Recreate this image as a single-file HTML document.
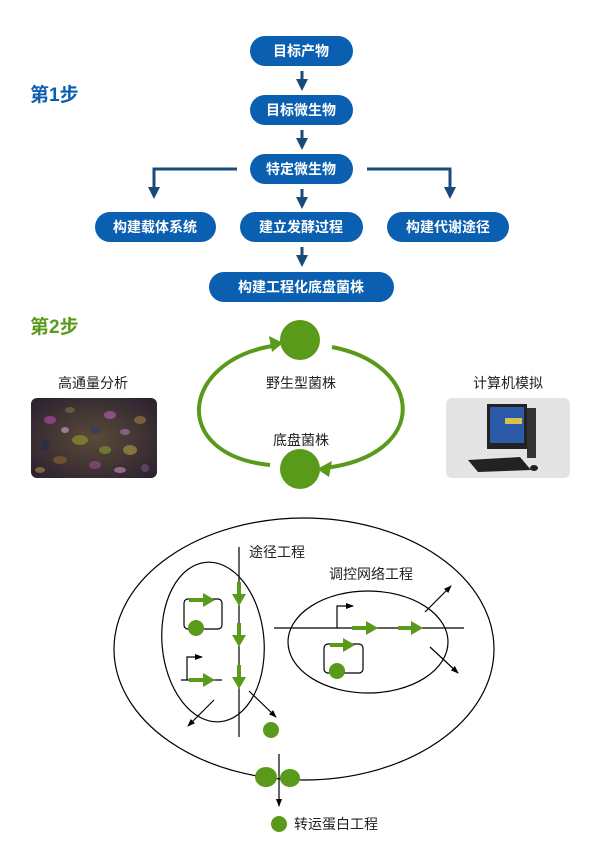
<!DOCTYPE html>
<html><head><meta charset="utf-8"><style>
body{margin:0;background:#fff;width:600px;height:867px;overflow:hidden}
svg{display:block}
text{font-family:"Liberation Sans","Noto Sans CJK SC",sans-serif}
.b{fill:#0b5fb0}
.bt{fill:#fff;font-size:14px;font-weight:bold;text-anchor:middle}
</style></head><body>
<svg width="600" height="867" viewBox="0 0 600 867" xmlns="http://www.w3.org/2000/svg">
<defs>
<marker id="ab" markerWidth="4" markerHeight="4" refX="2" refY="2" orient="auto" markerUnits="strokeWidth"><path d="M0,0 L4,2 L0,4 z" fill="#1a4a7a"/></marker>
<marker id="ak" markerWidth="8" markerHeight="8" refX="7" refY="4" orient="auto" markerUnits="userSpaceOnUse"><path d="M0,1 L8,4 L0,7 z" fill="#000"/></marker>
<marker id="ag" markerWidth="12" markerHeight="14" refX="2" refY="7" orient="auto" markerUnits="userSpaceOnUse"><path d="M0,0 L12,7 L0,14 z" fill="#5a9a1a"/></marker>
<radialGradient id="micro" cx="50%" cy="50%" r="70%"><stop offset="0" stop-color="#5a4a38"/><stop offset="1" stop-color="#2a2030"/></radialGradient>
</defs>

<!-- Step 1 -->
<text x="30" y="101" font-size="19" font-weight="bold" fill="#0b5fb0">第1步</text>
<rect class="b" x="250" y="36" width="103" height="30" rx="15"/><text class="bt" x="301" y="56">目标产物</text>
<rect class="b" x="250" y="95" width="103" height="30" rx="15"/><text class="bt" x="301" y="115">目标微生物</text>
<rect class="b" x="250" y="154" width="103" height="30" rx="15"/><text class="bt" x="301" y="174">特定微生物</text>
<rect class="b" x="95" y="212" width="121" height="30" rx="15"/><text class="bt" x="155" y="232">构建载体系统</text>
<rect class="b" x="240" y="212" width="123" height="30" rx="15"/><text class="bt" x="301" y="232">建立发酵过程</text>
<rect class="b" x="387" y="212" width="122" height="30" rx="15"/><text class="bt" x="448" y="232">构建代谢途径</text>
<rect class="b" x="209" y="272" width="185" height="30" rx="15"/><text class="bt" x="301" y="292">构建工程化底盘菌株</text>
<g stroke="#1a4a7a" stroke-width="3" fill="none">
<line x1="302" y1="71" x2="302" y2="85" marker-end="url(#ab)"/>
<line x1="302" y1="130" x2="302" y2="144" marker-end="url(#ab)"/>
<line x1="302" y1="189" x2="302" y2="203" marker-end="url(#ab)"/>
<line x1="302" y1="247" x2="302" y2="261" marker-end="url(#ab)"/>
<polyline points="237,169 154,169 154,193" marker-end="url(#ab)"/>
<polyline points="367,169 450,169 450,193" marker-end="url(#ab)"/>
</g>

<!-- Step 2 -->
<text x="30" y="333" font-size="19" font-weight="bold" fill="#5a9a1a">第2步</text>
<circle cx="300" cy="340" r="20" fill="#5a9a1a"/>
<circle cx="300" cy="469" r="20" fill="#5a9a1a"/>
<g stroke="#5a9a1a" stroke-width="4" fill="none">
<path d="M272,346 C180,362 170,455 270,465" />
<path d="M332,347 C425,365 430,455 325,468"/>
</g>
<path d="M283,343 L269,336 L272,352 z" fill="#5a9a1a"/>
<path d="M317,469 L332,461 L329,477 z" fill="#5a9a1a"/>
<text x="301" y="388" font-size="14" text-anchor="middle" fill="#222">野生型菌株</text>
<text x="301" y="445" font-size="14" text-anchor="middle" fill="#222">底盘菌株</text>
<text x="93" y="388" font-size="14" text-anchor="middle" fill="#222">高通量分析</text>
<text x="508" y="388" font-size="14" text-anchor="middle" fill="#222">计算机模拟</text>
<!-- micro image -->
<rect x="31" y="398" width="126" height="80" rx="6" fill="url(#micro)"/>
<g opacity="0.75">
<ellipse cx="50" cy="420" rx="6" ry="4" fill="#9a4a90"/>
<ellipse cx="80" cy="440" rx="8" ry="5" fill="#8a8a30"/>
<ellipse cx="110" cy="415" rx="6" ry="4" fill="#a05aa0"/>
<ellipse cx="130" cy="450" rx="7" ry="5" fill="#9a8a40"/>
<ellipse cx="60" cy="460" rx="7" ry="4" fill="#7a5a30"/>
<ellipse cx="95" cy="465" rx="6" ry="4" fill="#8a4a80"/>
<ellipse cx="140" cy="420" rx="6" ry="4" fill="#8a7040"/>
<ellipse cx="45" cy="445" rx="4" ry="6" fill="#2a2a50"/>
<ellipse cx="120" cy="470" rx="6" ry="3" fill="#b07aa0"/>
<ellipse cx="70" cy="410" rx="5" ry="3" fill="#6a6a40"/>
<ellipse cx="95" cy="430" rx="5" ry="4" fill="#3a3a60"/>
<ellipse cx="125" cy="432" rx="5" ry="3" fill="#a06aa0"/>
<ellipse cx="40" cy="470" rx="5" ry="3" fill="#8a7a40"/>
<ellipse cx="105" cy="450" rx="6" ry="4" fill="#7a8a30"/>
<ellipse cx="145" cy="468" rx="4" ry="4" fill="#6a4a70"/>
<ellipse cx="65" cy="430" rx="4" ry="3" fill="#c090b0"/>
</g>
<!-- computer image -->
<rect x="446" y="398" width="124" height="80" rx="6" fill="#e4e4e4"/>
<rect x="487" y="404" width="40" height="45" fill="#222"/>
<rect x="490" y="407" width="34" height="36" fill="#2a5aa8"/>
<rect x="505" y="418" width="17" height="6" fill="#d8c050"/>
<rect x="527" y="408" width="9" height="50" fill="#333"/>
<polygon points="468,460 520,457 531,470 478,472" fill="#222"/>
<ellipse cx="534" cy="468" rx="4" ry="3" fill="#222"/>

<!-- Step 3 -->
<g fill="none" stroke="#000" stroke-width="1.2">
<ellipse cx="304" cy="649" rx="190" ry="131"/>
<ellipse cx="213" cy="642" rx="51" ry="80" transform="rotate(-5 213 642)"/>
<ellipse cx="368" cy="642" rx="80" ry="51"/>
<line x1="239" y1="547" x2="239" y2="737"/>
<rect x="184" y="599" width="38" height="30" rx="4"/>
<line x1="181" y1="680" x2="222" y2="680"/>
<polyline points="187,680 187,657 202,657" marker-end="url(#ak)"/>
<line x1="214" y1="700" x2="188" y2="726" marker-end="url(#ak)"/>
<line x1="249" y1="691" x2="276" y2="717" marker-end="url(#ak)"/>
<line x1="274" y1="628" x2="464" y2="628"/>
<polyline points="337,628 337,606 353,606" marker-end="url(#ak)"/>
<rect x="324" y="644" width="39" height="29" rx="4"/>
<line x1="425" y1="612" x2="451" y2="586" marker-end="url(#ak)"/>
<line x1="430" y1="647" x2="458" y2="673" marker-end="url(#ak)"/>
</g>
<g stroke="#5a9a1a" stroke-width="4" fill="none">
<line x1="239" y1="582" x2="239" y2="596" marker-end="url(#ag)"/>
<line x1="239" y1="623" x2="239" y2="637" marker-end="url(#ag)"/>
<line x1="239" y1="665" x2="239" y2="679" marker-end="url(#ag)"/>
<line x1="189" y1="600" x2="205" y2="600" marker-end="url(#ag)"/>
<line x1="189" y1="680" x2="205" y2="680" marker-end="url(#ag)"/>
<line x1="352" y1="628" x2="368" y2="628" marker-end="url(#ag)"/>
<line x1="398" y1="628" x2="413" y2="628" marker-end="url(#ag)"/>
<line x1="330" y1="645" x2="345" y2="645" marker-end="url(#ag)"/>
</g>
<circle cx="196" cy="628" r="8" fill="#5a9a1a"/>
<circle cx="337" cy="671" r="8" fill="#5a9a1a"/>
<circle cx="271" cy="730" r="8" fill="#5a9a1a"/>
<ellipse cx="266" cy="777" rx="11" ry="10" fill="#5a9a1a"/>
<ellipse cx="290" cy="778" rx="10" ry="9" fill="#5a9a1a"/>
<line x1="279" y1="754" x2="279" y2="806" stroke="#000" stroke-width="1.2" marker-end="url(#ak)"/>
<circle cx="279" cy="824" r="8" fill="#5a9a1a"/>
<text x="294" y="829" font-size="14" fill="#222">转运蛋白工程</text>
<text x="249" y="557" font-size="14" fill="#222">途径工程</text>
<text x="329" y="579" font-size="14" fill="#222">调控网络工程</text>
</svg>
</body></html>
